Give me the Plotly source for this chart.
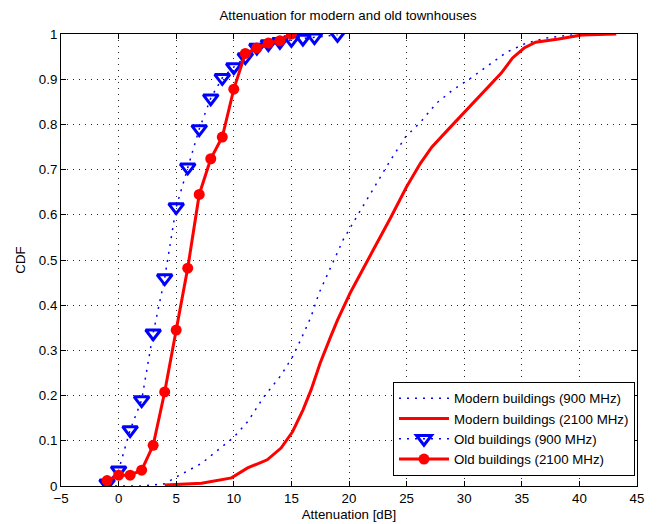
import plotly.graph_objects as go

# Modern buildings (900 MHz)
mod900_x = [-1, 2, 4, 5, 7.2, 10, 11.2, 12.6, 14.1, 15.1, 15.8, 16.7, 17.4, 18.4, 19.5, 21, 22.4, 23.6, 24.9, 26.2, 27.6, 29, 30.6, 31.9, 33.7, 35.4, 37.1, 40, 43]
mod900_y = [0.0, 0.0, 0.005, 0.02, 0.05, 0.108, 0.142, 0.197, 0.245, 0.286, 0.323, 0.374, 0.427, 0.485, 0.545, 0.61, 0.67, 0.721, 0.772, 0.805, 0.847, 0.876, 0.903, 0.927, 0.96, 0.98, 0.991, 1.0, 1.0]

# Modern buildings (2100 MHz)
mod2100_x = [4, 7.2, 9.8, 11.2, 12.9, 14.1, 15.1, 16, 16.7, 17.5, 18.4, 19, 20.1, 21.2, 22.1, 23.6, 25, 26.2, 27.2, 28.8, 30.2, 31.3, 32.2, 33.2, 34.2, 35.2, 36.2, 38.2, 40.2, 43.2]
mod2100_y = [0.002, 0.006, 0.018, 0.04, 0.058, 0.084, 0.12, 0.168, 0.212, 0.272, 0.33, 0.367, 0.427, 0.478, 0.522, 0.593, 0.662, 0.714, 0.75, 0.794, 0.832, 0.861, 0.887, 0.913, 0.947, 0.969, 0.982, 0.989, 0.998, 1.0]

# Old buildings (900 MHz)
old900_x = [-1, 0, 1, 2, 3, 4, 5, 6, 7, 8, 9, 10, 11, 12, 13, 14, 15, 16, 17, 19]
old900_y = [0.006, 0.035, 0.124, 0.19, 0.338, 0.46, 0.617, 0.705, 0.79, 0.858, 0.903, 0.927, 0.949, 0.97, 0.978, 0.983, 0.987, 0.99, 0.993, 0.998]

# Old buildings (2100 MHz)
old2100_x = [-1, 0, 1, 2, 3, 4, 5, 6, 7, 8, 9, 10, 11, 12, 13, 14, 15]
old2100_y = [0.012, 0.024, 0.024, 0.035, 0.09, 0.208, 0.345, 0.482, 0.645, 0.724, 0.772, 0.878, 0.957, 0.969, 0.98, 0.985, 1.0]

x_ticks = [-5, 0, 5, 10, 15, 20, 25, 30, 35, 40, 45]
x_tick_labels = ["\u22125", "0", "5", "10", "15", "20", "25", "30", "35", "40", "45"]
y_ticks = [0, 0.1, 0.2, 0.3, 0.4, 0.5, 0.6, 0.7, 0.8, 0.9, 1]
y_tick_labels = ["0", "0.1", "0.2", "0.3", "0.4", "0.5", "0.6", "0.7", "0.8", "0.9", "1"]

FS = 13.3

fig = go.Figure()
fig.add_trace(go.Scatter(x=mod900_x, y=mod900_y, mode="lines", name="Modern buildings (900 MHz)",
                         line=dict(color="#0000ff", width=1.5, dash="2px,6px")))
fig.add_trace(go.Scatter(x=mod2100_x, y=mod2100_y, mode="lines", name="Modern buildings (2100 MHz)",
                         line=dict(color="#ff0000", width=3)))
fig.add_trace(go.Scatter(x=old900_x, y=old900_y, mode="lines+markers", name="Old buildings (900 MHz)",
                         line=dict(color="#0000ff", width=1.5, dash="2px,6px"),
                         marker=dict(symbol="triangle-down-open", size=13, color="#0000ff",
                                     line=dict(width=3, color="#0000ff"))))
fig.add_trace(go.Scatter(x=old2100_x, y=old2100_y, mode="lines+markers", name="Old buildings (2100 MHz)",
                         line=dict(color="#ff0000", width=3),
                         marker=dict(symbol="circle", size=11, color="#ff0000")))

axis_common = dict(showline=True, linecolor="black", linewidth=1, mirror="ticks",
                   ticks="inside", ticklen=5, tickcolor="black",
                   showgrid=True, gridcolor="#222222", griddash="1px,5px", gridwidth=1,
                   zeroline=False, tickfont=dict(size=FS, color="black"))

fig.update_xaxes(range=[-5, 45], tickvals=x_ticks, ticktext=x_tick_labels,
                 title=dict(text="Attenuation [dB]", font=dict(size=FS, color="black"), standoff=4),
                 **axis_common)
fig.update_yaxes(range=[0, 1], tickvals=y_ticks, ticktext=y_tick_labels,
                 title=dict(text="CDF", font=dict(size=FS, color="black"), standoff=10),
                 **axis_common)

fig.update_layout(
    width=662, height=524,
    margin=dict(l=51, r=33, t=26, b=46),
    paper_bgcolor="white", plot_bgcolor="white",
    font=dict(family="Liberation Sans, Arial, sans-serif", size=FS, color="black"),
    title=dict(text="Attenuation for modern and old townhouses", x=(348 - 8) / 662, xanchor="center",
               xref="container", yref="container",
               y=0.995, yanchor="top", font=dict(size=FS, color="black")),
    legend=dict(x=0.9965, xanchor="right", y=0.022, yanchor="bottom",
                bgcolor="white", bordercolor="black", borderwidth=1,
                font=dict(size=FS, color="black"), itemwidth=50,
                tracegroupgap=0),
    showlegend=True,
)

fig.write_html("out.html")
